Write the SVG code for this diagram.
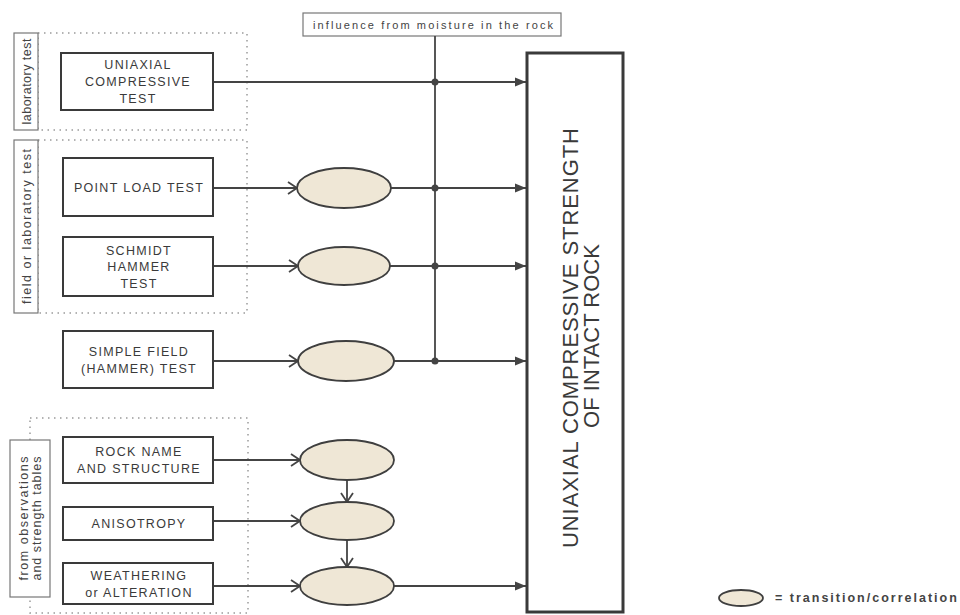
<svg xmlns="http://www.w3.org/2000/svg" width="960" height="615" viewBox="0 0 960 615">
<defs>
<style>
.bg{fill:#ffffff}
.box{fill:#ffffff;stroke:#3a3a3a;stroke-width:2}
.big{fill:#ffffff;stroke:#3a3a3a;stroke-width:3}
.lbl{fill:#ffffff;stroke:#777;stroke-width:1.2}
.dot{fill:none;stroke:#9a9a9a;stroke-width:1.5;stroke-dasharray:1.5,4.5}
.ell{fill:#efe7d6;stroke:#3f3f3f;stroke-width:1.8}
.ln{fill:none;stroke:#444;stroke-width:1.8}
.t{font-family:"Liberation Sans",Arial,sans-serif;font-size:12.5px;letter-spacing:1.3px;fill:#3a3a3a;text-anchor:middle}
.s{font-family:"Liberation Sans",Arial,sans-serif;font-size:11px;fill:#444;text-anchor:middle}
.r{font-family:"Liberation Sans",Arial,sans-serif;font-size:12.5px;fill:#444;text-anchor:middle}
.h{font-family:"Liberation Sans",Arial,sans-serif;font-size:22px;fill:#3a3a3a;text-anchor:middle}
.lg{font-family:"Liberation Sans",Arial,sans-serif;font-size:12.5px;font-weight:bold;letter-spacing:2px;fill:#444}
</style>
<marker id="fa" markerUnits="userSpaceOnUse" markerWidth="12" markerHeight="10" refX="11" refY="5" orient="auto">
<path d="M0,0.5 L11,5 L0,9.5 z" fill="#444"/>
</marker>
<marker id="oa" markerUnits="userSpaceOnUse" markerWidth="12" markerHeight="14" refX="10" refY="7" orient="auto">
<path d="M1,1 L10,7 L1,13" fill="none" stroke="#444" stroke-width="1.8"/>
</marker>
</defs>
<rect class="bg" x="0" y="0" width="960" height="615"/>

<g id="groups">
<rect class="dot" x="38" y="33" width="209" height="97"/>
<rect class="dot" x="38" y="140" width="209" height="173"/>
<rect class="dot" x="30" y="418" width="218" height="195"/>
</g>

<g id="label-lab">
<rect class="lbl" x="14" y="33" width="24" height="97"/>
<text class="r" transform="translate(30.5,81.5) rotate(-90)" textLength="86" lengthAdjust="spacing">laboratory test</text>
</g>
<g id="label-field">
<rect class="lbl" x="14" y="140" width="24" height="173"/>
<text class="r" transform="translate(30.5,226.5) rotate(-90)" textLength="155" lengthAdjust="spacing">field or laboratory test</text>
</g>
<g id="label-obs">
<rect class="lbl" x="10" y="440" width="40" height="157"/>
<text class="r" transform="translate(28,518.5) rotate(-90)" textLength="124" lengthAdjust="spacing">from observations</text>
<text class="r" transform="translate(41,518.5) rotate(-90)" textLength="124" lengthAdjust="spacing">and strength tables</text>
</g>

<g id="moisture">
<rect class="lbl" x="303" y="13" width="258" height="23"/>
<text class="s" x="433" y="29" textLength="240" lengthAdjust="spacing">influence from moisture in the rock</text>
</g>

<g id="connectors">
<line class="ln" x1="435" y1="36" x2="435" y2="361"/>
<line class="ln" x1="213" y1="82" x2="526" y2="82" marker-end="url(#fa)"/>
<line class="ln" x1="213" y1="188" x2="297" y2="188" marker-end="url(#oa)"/>
<line class="ln" x1="391" y1="188" x2="526" y2="188" marker-end="url(#fa)"/>
<line class="ln" x1="213" y1="266" x2="298" y2="266" marker-end="url(#oa)"/>
<line class="ln" x1="390" y1="266" x2="526" y2="266" marker-end="url(#fa)"/>
<line class="ln" x1="213" y1="361" x2="298" y2="361" marker-end="url(#oa)"/>
<line class="ln" x1="394" y1="361" x2="526" y2="361" marker-end="url(#fa)"/>
<line class="ln" x1="213" y1="460" x2="300" y2="460" marker-end="url(#oa)"/>
<line class="ln" x1="213" y1="521" x2="300" y2="521" marker-end="url(#oa)"/>
<line class="ln" x1="213" y1="586" x2="300" y2="586" marker-end="url(#oa)"/>
<line class="ln" x1="394" y1="586" x2="526" y2="586" marker-end="url(#fa)"/>
<line class="ln" x1="347" y1="480" x2="347" y2="502" marker-end="url(#oa)"/>
<line class="ln" x1="347" y1="540" x2="347" y2="567" marker-end="url(#oa)"/>
<circle cx="435" cy="82" r="3.5" fill="#444"/>
<circle cx="435" cy="188" r="3.5" fill="#444"/>
<circle cx="435" cy="266" r="3.5" fill="#444"/>
<circle cx="435" cy="361" r="3.5" fill="#444"/>
</g>

<g id="uct">
<rect class="box" x="61" y="53" width="152" height="57"/>
<text class="t" x="138" y="69">UNIAXIAL</text>
<text class="t" x="138" y="86">COMPRESSIVE</text>
<text class="t" x="138" y="103">TEST</text>
</g>
<g id="plt">
<rect class="box" x="63" y="158" width="150" height="58"/>
<text class="t" x="139" y="191.5">POINT LOAD TEST</text>
</g>
<g id="schmidt">
<rect class="box" x="63" y="237" width="150" height="59"/>
<text class="t" x="139" y="254.5">SCHMIDT</text>
<text class="t" x="139" y="271">HAMMER</text>
<text class="t" x="139" y="287.5">TEST</text>
</g>
<g id="simple">
<rect class="box" x="63" y="331" width="150" height="57"/>
<text class="t" x="139" y="355.5">SIMPLE FIELD</text>
<text class="t" x="139" y="372.5">(HAMMER) TEST</text>
</g>
<g id="rockname">
<rect class="box" x="63" y="437" width="150" height="46"/>
<text class="t" x="139" y="456">ROCK NAME</text>
<text class="t" x="139" y="473">AND STRUCTURE</text>
</g>
<g id="anisotropy">
<rect class="box" x="63" y="507" width="150" height="33"/>
<text class="t" x="139" y="528">ANISOTROPY</text>
</g>
<g id="weathering">
<rect class="box" x="63" y="563" width="150" height="41"/>
<text class="t" x="139" y="579.5">WEATHERING</text>
<text class="t" x="139" y="596.5">or ALTERATION</text>
</g>

<g id="e1"><ellipse class="ell" cx="344" cy="188" rx="47" ry="20"/></g>
<g id="e2"><ellipse class="ell" cx="344" cy="266" rx="46" ry="19"/></g>
<g id="e3"><ellipse class="ell" cx="346" cy="361" rx="48" ry="20"/></g>
<g id="e4"><ellipse class="ell" cx="347" cy="460" rx="47" ry="20"/></g>
<g id="e5"><ellipse class="ell" cx="347" cy="521" rx="47" ry="19"/></g>
<g id="e6"><ellipse class="ell" cx="347" cy="586" rx="47" ry="19"/></g>

<g id="ucs">
<rect class="big" x="527" y="53" width="96" height="559"/>
<text class="h" transform="translate(578,338) rotate(-90)" textLength="420" lengthAdjust="spacing">UNIAXIAL COMPRESSIVE STRENGTH</text>
<text class="h" transform="translate(599,336) rotate(-90)">OF INTACT ROCK</text>
</g>

<g id="legend">
<ellipse class="ell" cx="741" cy="598" rx="22" ry="8" stroke-width="1.5"/>
<text class="lg" x="775" y="602">= transition/correlation</text>
</g>
</svg>
